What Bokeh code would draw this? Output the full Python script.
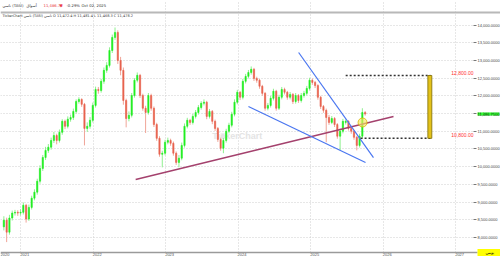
import numpy as np
import pandas as pd
from bokeh.plotting import figure
from bokeh.models import (Range1d, FixedTicker, NumeralTickFormatter, DatetimeTickFormatter,
                          Label, Span, ColumnDataSource, LinearAxis, DatetimeAxis, Grid,
                          BoxAnnotation)
from bokeh.embed import file_html
from bokeh.resources import INLINE
from bokeh.core.properties import value

# ---------------- data (bi-weekly candles, TASI) ----------------
dates = pd.date_range(end="2025-10-02", periods=131, freq="14D")

opens = [8300, 8490, 8150, 8550, 8690, 8710, 8690, 8710, 8910, 8520,
         8850, 9110, 9280, 9590, 9950, 10260, 10460, 10550, 10740, 10880,
         10740, 10970, 11280, 11140, 11340, 11390, 11560, 11840, 11900, 11760,
         11080, 11140, 11310, 11730, 12180, 12150, 12410, 12720, 12860, 13280,
         13650, 13790, 13000, 12720, 11870, 11360, 11450, 12010, 12440, 12580,
         12010, 11650, 11530, 12010, 11650, 11190, 10800, 10350, 10380, 10690,
         10740, 10660, 10380, 10120, 10240, 10600, 11140, 11310, 11250, 11420,
         11530, 11670, 11790, 11820, 11420, 11560, 11280, 11080, 10770, 10520,
         10740, 11000, 11170, 11480, 11820, 12100, 11960, 12410, 12550, 12660,
         12750, 12490, 12440, 12270, 12070, 11650, 11730, 11930, 12130, 11650,
         11960, 12180, 12100, 11960, 12040, 11840, 12010, 11870, 12010, 12070,
         12210, 12440, 12380, 12290, 11960, 11700, 11590, 11390, 11250, 11360,
         11190, 10860, 11000, 11250, 11280, 11080, 11000, 10830, 10600, 10860,
         11530]
closes = [8490, 8150, 8550, 8690, 8710, 8690, 8710, 8910, 8520, 8850,
          9110, 9280, 9590, 9950, 10260, 10460, 10550, 10740, 10880, 10740,
          10970, 11280, 11140, 11340, 11390, 11560, 11840, 11900, 11760, 11080,
          11140, 11310, 11730, 12180, 12150, 12410, 12720, 12860, 13280, 13650,
          13790, 13000, 12720, 11870, 11360, 11450, 12010, 12440, 12580, 12010,
          11650, 11530, 12010, 11650, 11190, 10800, 10350, 10380, 10690, 10740,
          10660, 10380, 10120, 10240, 10600, 11140, 11310, 11250, 11420, 11530,
          11670, 11790, 11820, 11420, 11560, 11280, 11080, 10770, 10520, 10740,
          11000, 11170, 11480, 11820, 12100, 11960, 12410, 12550, 12660, 12750,
          12490, 12440, 12270, 12070, 11650, 11730, 11930, 12130, 11650, 11960,
          12180, 12100, 11960, 12040, 11840, 12010, 11870, 12010, 12070, 12210,
          12440, 12380, 12290, 11960, 11700, 11590, 11390, 11250, 11360, 11190,
          10860, 11000, 11280, 11280, 11080, 11000, 10830, 10600, 10860, 11530,
          11486.72]
highs = [8600, 8560, 8640, 8760, 8780, 8770, 8800, 8990, 8950, 8930,
         9180, 9360, 9660, 10040, 10330, 10560, 10640, 10820, 10980, 10930,
         11050, 11340, 11330, 11420, 11470, 11640, 11900, 11960, 11930, 11800,
         11250, 11400, 11810, 12260, 12250, 12480, 12800, 12950, 13370, 13730,
         13930, 13850, 13100, 12800, 11920, 11560, 12080, 12500, 12660, 12620,
         12060, 11720, 12080, 12060, 11700, 11240, 10860, 10450, 10760, 10820,
         10790, 10710, 10430, 10330, 10680, 11220, 11380, 11350, 11490, 11600,
         11740, 11850, 11900, 11860, 11630, 11600, 11330, 11120, 10820, 10810,
         11070, 11240, 11550, 11900, 12170, 12140, 12480, 12620, 12730, 12830,
         12790, 12540, 12480, 12310, 12110, 11800, 12000, 12200, 12170, 12030,
         12250, 12230, 12140, 12110, 12080, 12080, 12050, 12080, 12140, 12280,
         12510, 12490, 12420, 12330, 12000, 11740, 11640, 11460, 11430, 11400,
         11230, 11080, 11350, 11330, 11310, 11120, 11040, 10870, 10930, 11650,
         11570]
lows = [8200, 7870, 8080, 8480, 8620, 8610, 8620, 8650, 8420, 8470,
        8790, 9050, 9210, 9520, 9880, 10190, 10390, 10480, 10670, 10630,
        10680, 10900, 11060, 11080, 11270, 11320, 11500, 11780, 11690, 10600,
        10980, 11070, 11250, 11670, 12060, 12090, 12340, 12650, 12800, 13210,
        13580, 12900, 12580, 11750, 11110, 11280, 11390, 11950, 12380, 11940,
        11580, 10950, 11470, 11580, 11120, 10730, 10280, 9980, 10320, 10630,
        10590, 10310, 10050, 9980, 10180, 10540, 11080, 11180, 11190, 11360,
        11470, 11610, 11730, 11340, 11360, 11200, 11010, 10700, 10450, 10380,
        10680, 10940, 11110, 11420, 11760, 11880, 11900, 12350, 12490, 12600,
        12420, 12370, 12200, 12000, 11580, 11590, 11670, 11870, 11580, 11600,
        11900, 12040, 11890, 11900, 11770, 11780, 11800, 11810, 11950, 12010,
        12150, 12310, 12220, 11890, 11630, 11520, 10690, 11180, 11200, 11120,
        10790, 10460, 10940, 11190, 11020, 10930, 10760, 10460, 10540, 10800,
        11440]

y_ticks = [8000, 8500, 9000, 9500, 10000, 10500, 11000, 11500, 12000, 12500, 13000, 13500, 14000]
grid_years = ["2021-01-01", "2022-01-01", "2023-01-01", "2024-01-01", "2025-01-01", "2026-01-01", "2027-01-01"]
label_dates = ["2020-10-12", "2021-01-21", "2022-01-21", "2023-01-21", "2024-01-21", "2025-01-21", "2026-01-21", "2027-01-21"]

# drawn studies
support_x = ["2022-08-03", "2026-02-22"]
support_y = [9637, 11416]
upper_x = ["2024-11-01", "2025-11-13"]
upper_y = [13223, 10258]
lower_x = ["2024-02-22", "2025-10-04"]
lower_y = [11698, 10117]
target_top = 12574
target_bottom = 10800
target_labels = ["12,800.00", "10,800.00"]
target_top_start = "2025-06-26"
target_bottom_start = "2025-09-09"
target_end = "2026-08-27"
bar_left, bar_right = "2026-08-14", "2026-09-03"
circle_x, circle_y = "2025-09-19", 11247
last_price = 11486.72

header_texts = ["تاسي (TASI)", "أسواق", "11,486.72", "▼", "-0.29%", "Oct 02, 2025"]
header_colors = ["#333333", "#333333", "#e8303a", "#e8303a", "#333333", "#333333"]
info_text = "TickerChart تاسي (TASI) تاسي  O 11,472.4  H 11,481.4  L 11,468.3  C 11,478.2"
period_text = "يومي"

# ---------------- figure ----------------
ms = lambda s: pd.Timestamp(s).value / 1e6
x_start, x_end = pd.Timestamp("2020-09-21"), pd.Timestamp("2027-08-15")
axis_x = pd.Timestamp("2027-04-01")      # where the price axis sits
axis_y = 7576                           # where the time axis sits
y_top, y_bottom = 14692, 7407
hdr_y, info_y, sep_y = 14551, 14268, 14353

p = figure(width=500, height=258, x_axis_type="datetime", output_backend="svg",
           toolbar_location=None, x_axis_location=None, y_axis_location=None,
           x_range=Range1d(x_start, x_end), y_range=Range1d(y_bottom, y_top),
           min_border_left=0, min_border_right=0, min_border_top=0, min_border_bottom=0)
p.outline_line_color = None
p.background_fill_color = "white"
p.grid.visible = False

# grids
xg = Grid(dimension=0, ticker=FixedTicker(ticks=[ms(d) for d in grid_years]),
          grid_line_color="#cfcfcf", grid_line_dash="1 2", level="underlay")
yg = Grid(dimension=1, ticker=FixedTicker(ticks=y_ticks),
          grid_line_color="#cfcfcf", grid_line_dash="1 2", level="underlay")
p.add_layout(xg)
p.add_layout(yg)
p.add_layout(BoxAnnotation(left=ms("2027-04-01"), fill_color="white", fill_alpha=1,
                           line_color=None, level="underlay"))
p.add_layout(BoxAnnotation(top=axis_y, fill_color="white", fill_alpha=1,
                           line_color=None, level="underlay"))

# price axis (right)
ya = LinearAxis(fixed_location=ms(axis_x), ticker=FixedTicker(ticks=y_ticks),
                formatter=NumeralTickFormatter(format="0,0.0000"))
ya.axis_line_color = None
ya.major_tick_in = 0
ya.major_tick_out = 3
ya.major_tick_line_color = "#777777"
ya.minor_tick_line_color = None
ya.major_label_text_font_size = "4px"
ya.major_label_text_color = "#444444"
ya.major_label_standoff = 1
p.add_layout(ya, "right")

# time axis (below)
fmt = "%Y"
xa = DatetimeAxis(fixed_location=axis_y, ticker=FixedTicker(ticks=[ms(d) for d in label_dates]),
                  formatter=DatetimeTickFormatter(years=fmt, months=fmt, days=fmt, hours=fmt,
                                                  hourmin=fmt, minutes=fmt, minsec=fmt, seconds=fmt,
                                                  milliseconds=fmt, microseconds=fmt),
                  bounds=(ms("2020-09-21"), ms("2027-04-20")))
xa.axis_line_color = "#9a9a9a"
xa.axis_line_width = 1.5
xa.major_tick_line_color = None
xa.major_tick_in = 0
xa.major_tick_out = 0
xa.minor_tick_line_color = None
xa.major_label_text_font_size = "4px"
xa.major_label_text_color = "#555555"
xa.major_label_standoff = 0
p.add_layout(xa, "below")

# top separator line
p.add_layout(Span(location=sep_y, dimension="width", line_color="#b8b8b8", line_width=2))

# header rows
p.text(x=[x_start] * len(header_texts), y=[hdr_y] * len(header_texts), text=header_texts,
       x_offset=[2, 26, 43, 59, 66, 81], text_color=header_colors, text_font_size="3.8px",
       text_baseline="middle", text_font=value("DejaVu Sans"))
p.text(x=[x_start], y=[info_y], text=[info_text], x_offset=2, text_color="#333333",
       text_font_size="3.5px", text_baseline="middle", text_font=value("DejaVu Sans"))

# watermark
p.text(x=[pd.Timestamp("2023-10-20")], y=[10880], text=["▣"], text_font_size="7px",
       text_color="#e6e6e6", text_baseline="middle", text_align="center")
p.text(x=[pd.Timestamp("2023-12-28")], y=[10880], text=["TickerChart"], text_font_size="9px",
       text_font_style="bold", text_color="#e4e4e4", text_baseline="middle",
       text_align="center", text_font=value("Liberation Sans"))

# candles
df = pd.DataFrame({"date": dates, "open": opens, "high": highs, "low": lows, "close": closes})
df["top"] = df[["open", "close"]].max(axis=1)
df["bottom"] = df[["open", "close"]].min(axis=1)
df["color"] = np.where(df["close"] >= df["open"], "#22ee22", "#e8634f")
df["wick"] = np.where(df["close"] >= df["open"], "#8ff08f", "#f0a598")
src = ColumnDataSource(df)
p.segment(x0="date", y0="high", x1="date", y1="low", color="wick", line_width=1, source=src)
p.vbar(x="date", width=14 * 24 * 3600 * 1000 * 0.45, top="top", bottom="bottom",
       fill_color="color", line_color="color", line_width=0.6, source=src)

# trend lines
p.line([pd.Timestamp(d) for d in support_x], support_y, line_color="#a4416d", line_width=1.4)
p.line([pd.Timestamp(d) for d in upper_x], upper_y, line_color="#4a76f0", line_width=1.2)
p.line([pd.Timestamp(d) for d in lower_x], lower_y, line_color="#4a76f0", line_width=1.2)

# target box
p.segment(x0=[pd.Timestamp(target_top_start), pd.Timestamp(target_bottom_start)],
          y0=[target_top, target_bottom], x1=[pd.Timestamp(target_end)] * 2,
          y1=[target_top, target_bottom], line_color="#333333", line_width=1.5, line_dash="2 2")
p.quad(left=[pd.Timestamp(bar_left)], right=[pd.Timestamp(bar_right)],
       top=[target_top], bottom=[target_bottom], fill_color="#e3c21a", line_color="#7d6b00",
       line_width=0.8)
p.text(x=[axis_x, axis_x], y=[target_top, target_bottom], text=target_labels,
       text_align="right", text_baseline="bottom", text_color="#ff3030",
       text_font_size="5px", text_font=value("Liberation Sans"), y_offset=-1)

# highlight circle
p.scatter([pd.Timestamp(circle_x)], [circle_y], size=9, fill_color="#f5e663", fill_alpha=0.65,
          line_color="#d9b400", line_width=0.8)

# last price tag on the price axis
p.add_layout(Label(x=ms(axis_x), y=last_price, x_offset=4, text="11,486.7500",
                   text_font_size="4px", text_color="#003300", text_baseline="middle",
                   background_fill_color="#33ff33", text_font="Liberation Sans"))

# bottom-right period box
p.add_layout(Label(x=ms(axis_x), y=axis_y, x_offset=4, text=period_text,
                   text_font_size="4px", text_color="#000000", text_baseline="middle",
                   background_fill_color="#ffff00", text_font="DejaVu Sans",
                   padding=(8, 1)))

open("out.html", "w").write(file_html(p, INLINE))
